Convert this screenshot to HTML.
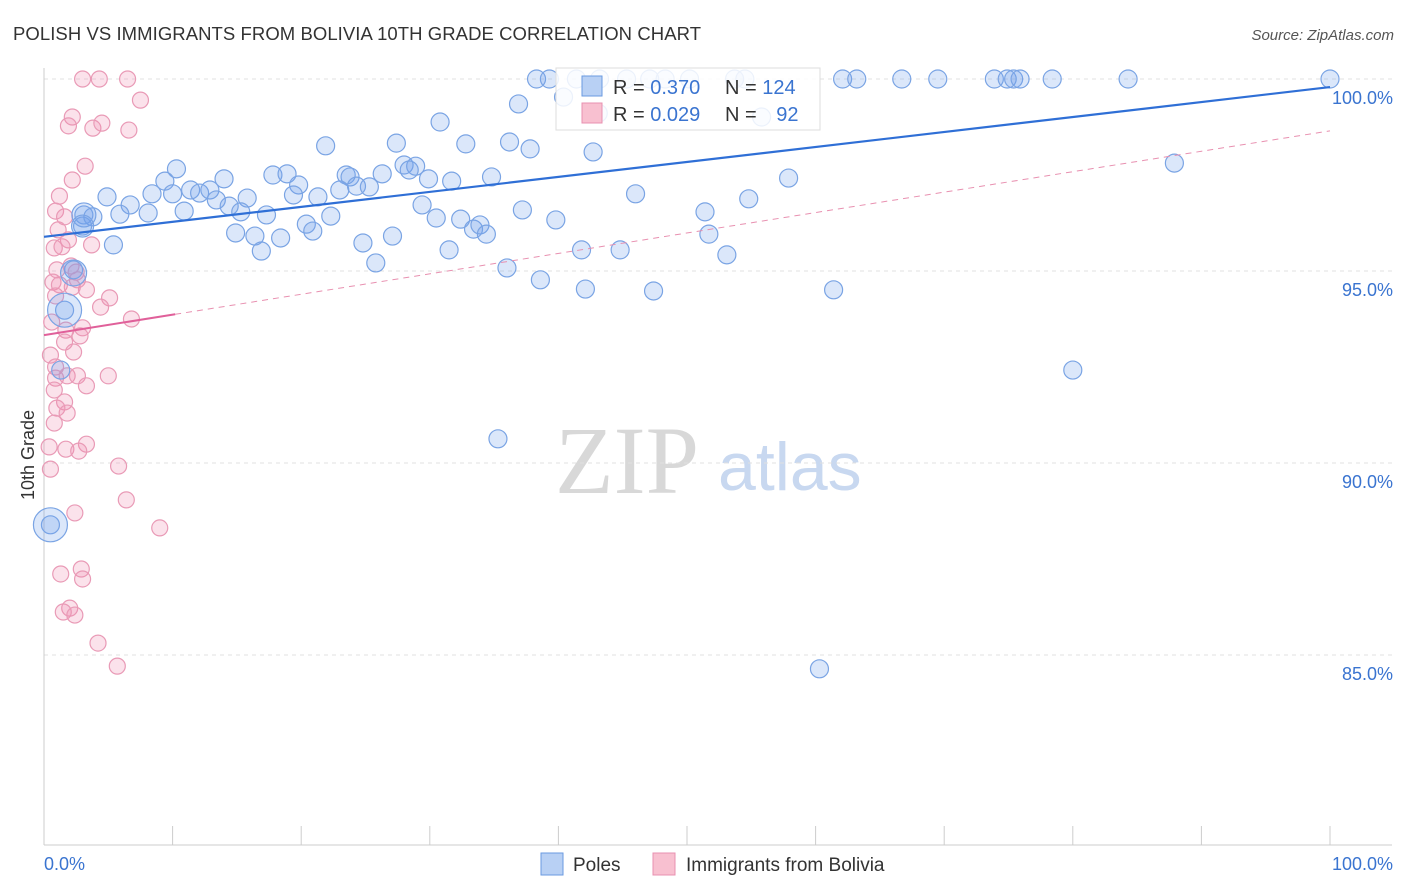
<!DOCTYPE html>
<html><head><meta charset="utf-8"><style>
body{margin:0;background:#fff;font-family:"Liberation Sans",sans-serif}
svg{display:block}
</style></head><body>
<svg id="chart" width="1406" height="892">
<text x="13" y="40" font-size="18.5" fill="#333" textLength="688">POLISH VS IMMIGRANTS FROM BOLIVIA 10TH GRADE CORRELATION CHART</text>
<text x="1394" y="40" font-size="15" fill="#555" font-style="italic" text-anchor="end">Source: ZipAtlas.com</text>
<text x="555" y="493" font-size="96" fill="#d8d8d8" font-family="Liberation Serif,serif">ZIP</text>
<text x="718" y="490" font-size="68" fill="#c8d8f0">atlas</text>
<g id="grid"></g>
<g id="axes"></g>
<g id="marks"></g>
<text transform="translate(34,455) rotate(-90)" font-size="18" fill="#333" text-anchor="middle">10th Grade</text>
<g>
<rect x="556" y="68" width="264" height="62" fill="#fff" fill-opacity="0.85" stroke="#ddd"/>
<rect x="582" y="76" width="20" height="20" fill="#b8d0f4" stroke="#6a9ae0"/>
<rect x="582" y="103" width="20" height="20" fill="#f8c0d0" stroke="#e890b0"/>
<text x="613" y="94" font-size="20" fill="#333">R = <tspan fill="#3a74d0">0.370</tspan></text>
<text x="725" y="94" font-size="20" fill="#333">N = <tspan fill="#3a74d0">124</tspan></text>
<text x="613" y="121" font-size="20" fill="#333">R = <tspan fill="#3a74d0">0.029</tspan></text>
<text x="725" y="121" font-size="20" fill="#333">N = <tspan fill="#3a74d0" dx="14">92</tspan></text>
</g>
<g>
<rect x="541" y="853" width="22" height="22" fill="#b8d0f4" stroke="#6a9ae0"/>
<text x="573" y="871" font-size="19" fill="#333">Poles</text>
<rect x="653" y="853" width="22" height="22" fill="#f8c0d0" stroke="#e890b0"/>
<text x="686" y="871" font-size="19" fill="#333">Immigrants from Bolivia</text>
</g>
</svg>
<script>
const yTicks=[100,95,90,85];
const yTickLabels=["100.0%","95.0%","90.0%","85.0%"];
const xTicks=[0,10,20,30,40,50,60,70,80,90,100];
const xEndLabels=["0.0%","100.0%"];
const blueX=[38.3,39.3,41.4,43.2,45.3,47.1,48.3,50.2,53.7,54.5,62.1,63.2,66.7,69.5,73.9,74.9,75.4,75.9,78.4,84.3,100,
36.9,40.4,43.1,55.8,30.8,27.4,21.9,32.8,36.2,37.8,42.7,87.9,10.3,17.8,18.9,23.5,23.8,26.3,28.0,28.9,28.4,29.9,31.7,34.8,57.9,9.4,14.0,
4.9,6.7,8.4,10.0,11.4,12.1,12.9,13.4,14.4,15.8,19.8,19.4,21.3,23.0,24.3,25.3,46.0,54.8,
3.1,3.8,5.9,8.1,10.9,15.3,17.3,22.3,29.4,30.5,32.4,37.2,39.8,51.4,
3.0,14.9,16.4,18.4,20.4,20.9,33.4,33.9,34.4,51.7,27.1,5.4,16.9,24.8,31.5,41.8,44.8,53.1,25.8,36.0,2.3,38.6,42.1,47.4,61.4,1.6,80.0,1.3,35.3,0.5,60.3];
const blueY=[100,100,100,100,100,100,100,100,100,100,100,100,100,100,100,100,100,100,100,100,100,
99.35,99.53,99.11,99.01,98.88,98.33,98.26,98.31,98.36,98.18,98.10,97.81,97.66,97.50,97.53,97.50,97.45,97.53,97.76,97.73,97.63,97.40,97.34,97.45,97.42,97.34,97.40,
96.93,96.72,97.01,97.01,97.11,97.03,97.11,96.85,96.69,96.90,97.24,96.98,96.93,97.11,97.21,97.19,97.01,96.88,
96.46,96.41,96.48,96.51,96.56,96.54,96.46,96.43,96.72,96.38,96.35,96.59,96.33,96.54,
96.17,95.99,95.91,95.86,96.22,96.04,96.09,96.20,95.96,95.96,95.91,95.68,95.52,95.73,95.55,95.55,95.55,95.42,95.21,95.08,95.03,94.77,94.53,94.48,94.51,93.98,92.42,92.42,90.63,88.39,84.64];
const bigX=[1.6,0.5,3.1,2.3,3.0];
const bigY=[93.98,88.39,96.46,94.95,96.17];
const bigR=[17,17,12,13,11];
const bolX=[3.0,4.3,6.5,7.5,2.2,1.9,3.8,4.5,6.6,3.2,2.2,1.2,0.9,1.6,1.1,1.9,3.7,0.8,1.4,1.0,2.1,2.5,0.7,1.2,2.6,3.3,2.2,5.1,0.9,4.4,6.8,0.6,1.7,3.0,2.8,1.6,2.3,0.5,0.9,0.9,1.8,2.6,5.0,0.8,3.3,1.6,1.0,1.8,0.8,3.3,1.7,2.7,0.4,0.5,5.8,6.4,2.4,9.0,2.9,1.3,3.0,2.0,1.5,2.4,4.2,5.7];
const bolY=[100,100,100,99.45,99.01,98.78,98.72,98.85,98.67,97.73,97.37,96.95,96.56,96.41,96.07,95.81,95.68,95.60,95.63,95.03,95.13,94.97,94.71,94.64,94.77,94.51,94.58,94.30,94.35,94.06,93.75,93.67,93.46,93.52,93.31,93.15,92.89,92.81,92.50,92.21,92.27,92.27,92.27,91.90,92.01,91.59,91.43,91.30,91.04,90.49,90.36,90.31,90.42,89.84,89.92,89.04,88.70,88.31,87.24,87.11,86.98,86.22,86.12,86.04,85.31,84.71];
const blueTrend=[95.89,99.79];
const bolTrend=[93.33,98.65];
const bolSolidEnd=10.2;
const NS="http://www.w3.org/2000/svg";
const xs=v=>44+v*12.86, ys=v=>79+(100-v)*38.4;
function mk(t,a,p){const e=document.createElementNS(NS,t);for(const k in a)e.setAttribute(k,a[k]);p.appendChild(e);return e;}
const grid=document.getElementById('grid'),axes=document.getElementById('axes'),marks=document.getElementById('marks');
yTicks.forEach((v,i)=>{
 const l=mk('line',{x1:44,x2:1392,y1:ys(v),y2:ys(v),stroke:'#e0e0e0','stroke-dasharray':'4,4'},grid);
 
 
 const t=mk('text',{x:1393,y:ys(v)+25,'font-size':18,fill:'#3a74d0','text-anchor':'end'},axes);
 t.textContent=yTickLabels[i];
 
 
});
const ya=mk('line',{x1:44,x2:44,y1:68,y2:845,stroke:'#ccc'},axes);


const xa=mk('line',{x1:44,x2:1392,y1:845,y2:845,stroke:'#ccc'},axes);


xTicks.forEach(v=>{
 const t=mk('line',{x1:xs(v),x2:xs(v),y1:826,y2:845,stroke:'#ccc'},axes);
 
 
});
const xl0=mk('text',{x:44,y:870,'font-size':18,fill:'#3a74d0'},axes);xl0.textContent=xEndLabels[0];


const xl1=mk('text',{x:1393,y:870,'font-size':18,fill:'#3a74d0','text-anchor':'end'},axes);xl1.textContent=xEndLabels[1];


bolX.forEach((x,i)=>{
 const c=mk('circle',{cx:xs(x),cy:ys(bolY[i]),r:8,fill:'rgba(240,140,175,0.25)',stroke:'#e99ab6','stroke-width':1.2},marks);
 
 
});
blueX.forEach((x,i)=>{
 const c=mk('circle',{cx:xs(x),cy:ys(blueY[i]),r:9,fill:'rgba(110,160,235,0.25)',stroke:'#7aa4e4','stroke-width':1.2},marks);
 
 
});
bigX.forEach((x,i)=>{
 const c=mk('circle',{cx:xs(x),cy:ys(bigY[i]),r:bigR[i],fill:'rgba(110,160,235,0.25)',stroke:'#7aa4e4','stroke-width':1.2},marks);
 
 
});
const lerp=(a,x)=>a[0]+(a[1]-a[0])*x/100;
const bd=mk('line',{x1:xs(bolSolidEnd),y1:ys(lerp(bolTrend,bolSolidEnd)),x2:xs(100),y2:ys(bolTrend[1]),stroke:'#e890b0','stroke-dasharray':'6,5','stroke-width':1},marks);


const bs=mk('line',{x1:xs(0),y1:ys(bolTrend[0]),x2:xs(bolSolidEnd),y2:ys(lerp(bolTrend,bolSolidEnd)),stroke:'#e0609a','stroke-width':2},marks);


const bt=mk('line',{x1:xs(0),y1:ys(blueTrend[0]),x2:xs(100),y2:ys(blueTrend[1]),stroke:'#2f6fd6','stroke-width':2.2},marks);


</script>
</body></html>
